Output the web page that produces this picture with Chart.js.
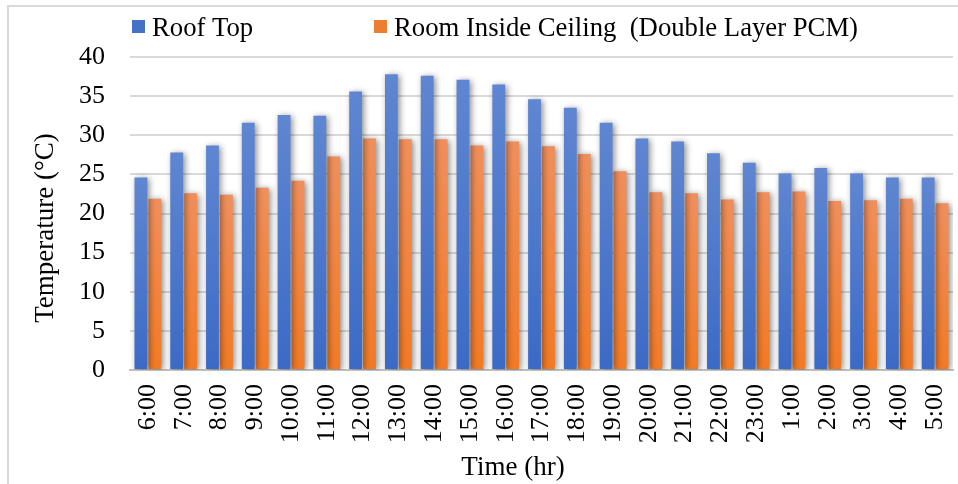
<!DOCTYPE html>
<html><head><meta charset="utf-8">
<script src="https://cdn.jsdelivr.net/npm/chart.js@4.4.1/dist/chart.umd.min.js"></script>
<style>html,body{margin:0;padding:0;background:#fff;}#wrap{width:958px;height:484px;}</style>
</head><body><div id="wrap"><canvas id="c" width="958" height="484"></canvas></div>
<script>
const categories = ['6:00','7:00','8:00','9:00','10:00','11:00','12:00','13:00','14:00','15:00','16:00','17:00','18:00','19:00','20:00','21:00','22:00','23:00','1:00','2:00','3:00','4:00','5:00'];
const roofTop = [24.6, 27.8, 28.7, 31.6, 32.6, 32.5, 35.6, 37.8, 37.6, 37.1, 36.5, 34.6, 33.5, 31.6, 29.6, 29.2, 27.7, 26.5, 25.1, 25.8, 25.1, 24.6, 24.6];
const roomCeiling = [21.9, 22.6, 22.4, 23.3, 24.2, 27.3, 29.6, 29.5, 29.5, 28.7, 29.2, 28.6, 27.6, 25.4, 22.7, 22.6, 21.8, 22.7, 22.8, 21.6, 21.7, 21.9, 21.3];
const seriesNames = ['Roof Top', 'Room Inside Ceiling  (Double Layer PCM)'];
const yMin = 0, yMax = 40, yStep = 5;
const xTitle = 'Time (hr)';
const yTitle = 'Temperature (°C)';

const FONT = '"Liberation Serif", "Times New Roman", serif';

function barGradient(topColor, bottomColor) {
  return (c) => {
    const chart = c.chart;
    if (!chart.chartArea || c.type !== 'data' || !c.parsed) return bottomColor;
    const y = chart.scales.y;
    const t = y.getPixelForValue(c.parsed.y);
    const b = y.getPixelForValue(0);
    const g = chart.ctx.createLinearGradient(0, t, 0, b);
    g.addColorStop(0, topColor);
    g.addColorStop(1, bottomColor);
    return g;
  };
}

const decor = {
  id: 'decor',
  beforeDraw(chart) {
    const ctx = chart.ctx;
    ctx.save();
    ctx.fillStyle = '#fff';
    ctx.fillRect(0, 0, chart.width, chart.height);
    ctx.strokeStyle = '#d9d9d9';
    ctx.lineWidth = 2;
    ctx.strokeRect(8, 6, chart.width + 10, chart.height + 10);
    ctx.restore();
  },
  beforeDatasetsDraw(chart) {
    const ctx = chart.ctx;
    ctx.save();
    ctx.shadowColor = 'rgba(0,0,0,0.45)';
    ctx.shadowBlur = 6;
    ctx.shadowOffsetX = 2;
    ctx.shadowOffsetY = 1;
  },
  afterDatasetsDraw(chart) {
    chart.ctx.restore();
  },
  afterDraw(chart) {
    const ctx = chart.ctx;
    ctx.save();
    // legend
    const boxX = [132, 374];
    ctx.font = '26.7px ' + FONT;
    ctx.textBaseline = 'alphabetic';
    ctx.textAlign = 'left';
    chart.data.datasets.forEach((ds, i) => {
      ctx.fillStyle = ds.legendColor;
      ctx.fillRect(boxX[i], 20, 13, 13);
      ctx.fillStyle = '#000';
      ctx.fillText(ds.label, boxX[i] + 20, 36);
    });
    // axis titles
    ctx.font = '27px ' + FONT;
    ctx.textAlign = 'center';
    ctx.textBaseline = 'middle';
    ctx.fillText(xTitle, 513, 468);
    ctx.translate(46, 228);
    ctx.rotate(-Math.PI / 2);
    ctx.fillText(yTitle, 0, 0);
    ctx.restore();
  }
};

new Chart(document.getElementById('c'), {
  type: 'bar',
  data: {
    labels: categories,
    datasets: [
      { label: seriesNames[0], data: roofTop, backgroundColor: barGradient('#5f86d1', '#3b6ac6'), legendColor: '#4472c4', borderWidth: 0 },
      { label: seriesNames[1], data: roomCeiling, backgroundColor: barGradient('#f08f5c', '#f27a24'), legendColor: '#ed7d31', borderWidth: 0 }
    ]
  },
  options: {
    responsive: false,
    animation: false,
    devicePixelRatio: 1,
    barPercentage: 0.92,
    categoryPercentage: 0.78,
    layout: { padding: { top: 57, right: 5, left: 0, bottom: 0 } },
    plugins: { legend: { display: false }, tooltip: { enabled: false } },
    scales: {
      x: {
        grid: { display: false, drawTicks: false },
        border: { display: true, color: '#c0c0c0', width: 2 },
        ticks: { font: { family: FONT, size: 26 }, color: '#000', minRotation: 90, maxRotation: 90, autoSkip: false, padding: 14 },
        afterFit(s) { s.height = 114; s.paddingLeft = 0; s.paddingRight = 0; }
      },
      y: {
        min: yMin, max: yMax,
        grid: { color: '#d9d9d9', lineWidth: 2, drawTicks: false },
        border: { display: false },
        ticks: { stepSize: yStep, font: { family: FONT, size: 26 }, color: '#000', padding: 25 },
        afterFit(s) { s.width = 130; }
      }
    }
  },
  plugins: [decor]
});
</script></body></html>
